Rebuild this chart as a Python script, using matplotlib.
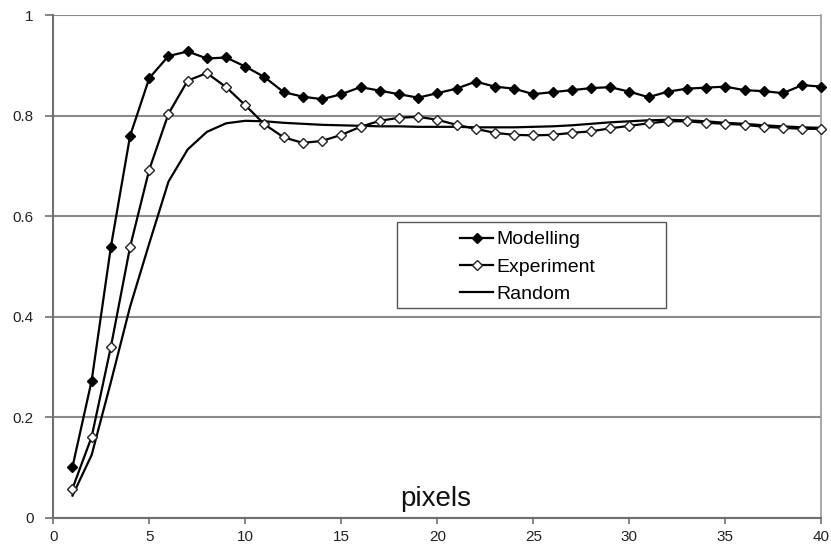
import numpy as np
import matplotlib.pyplot as plt
from matplotlib.patches import Rectangle

plt.rcParams['font.family'] = ['Liberation Sans', 'DejaVu Sans']

pixels = np.arange(1, 41)

modelling = [0.101, 0.273, 0.539, 0.760, 0.875, 0.919, 0.928, 0.914, 0.916, 0.898,
             0.877, 0.847, 0.838, 0.833, 0.843, 0.857, 0.850, 0.843, 0.836, 0.845,
             0.854, 0.868, 0.858, 0.854, 0.843, 0.847, 0.851, 0.855, 0.857, 0.848,
             0.837, 0.848, 0.854, 0.856, 0.858, 0.851, 0.849, 0.845, 0.861, 0.858]

experiment = [0.058, 0.161, 0.340, 0.539, 0.693, 0.804, 0.870, 0.885, 0.857, 0.821,
              0.783, 0.757, 0.746, 0.750, 0.762, 0.778, 0.790, 0.796, 0.798, 0.792,
              0.782, 0.774, 0.766, 0.762, 0.761, 0.762, 0.766, 0.769, 0.775, 0.780,
              0.785, 0.789, 0.789, 0.786, 0.784, 0.782, 0.778, 0.776, 0.774, 0.774]

random_ = [0.044, 0.125, 0.270, 0.420, 0.546, 0.669, 0.733, 0.768, 0.785, 0.790,
           0.789, 0.786, 0.784, 0.782, 0.781, 0.780, 0.779, 0.779, 0.778, 0.778,
           0.778, 0.777, 0.777, 0.777, 0.778, 0.779, 0.781, 0.784, 0.787, 0.789,
           0.791, 0.792, 0.791, 0.789, 0.786, 0.784, 0.781, 0.779, 0.777, 0.776]

fig = plt.figure(figsize=(8.31, 5.54), dpi=100)
ax = fig.add_axes([0.0641, 0.0655, 0.9243, 0.9069])

ax.plot(pixels, modelling, '-D', color='black', lw=1.6, ms=5.0,
        mfc='black', mec='black', label='Modelling', zorder=4, clip_on=False)
ax.plot(pixels, experiment, '-D', color='black', lw=1.6, ms=5.3,
        mfc='white', mec='#222222', mew=1.0, label='Experiment', zorder=3,
        clip_on=False)
ax.plot(pixels, random_, '-', color='black', lw=1.6, label='Random', zorder=2)

ax.set_xlim(0, 40)
ax.set_ylim(0, 1)
ax.set_xticks(np.arange(0, 41, 5))
ax.set_yticks([0, 0.2, 0.4, 0.6, 0.8, 1])
ax.set_yticklabels(['0', '0.2', '0.4', '0.6', '0.8', '1'])
ax.grid(axis='y', color='#8a8a8a', lw=1.5)
ax.set_axisbelow(True)

for side in ['left', 'bottom']:
    ax.spines[side].set_color('#707070')
    ax.spines[side].set_linewidth(1.5)
ax.spines['top'].set_visible(False)
ax.spines['right'].set_color('#9a9a9a')
ax.spines['right'].set_linewidth(1.2)

ax.tick_params(axis='x', length=4, width=1.2, color='#707070', pad=5,
               labelsize=11, labelcolor='#222222')
ax.tick_params(axis='y', length=6, width=1.2, color='#707070', pad=8,
               labelsize=11, labelcolor='#222222')

ax.text(19.9, 0.024, 'pixels', fontsize=20, ha='center', va='baseline',
        color='#111111')

# legend box drawn separately so the text can sit in the middle
ax.add_patch(Rectangle((0.4475, 0.4174), 0.35, 0.1712, transform=ax.transAxes,
                       facecolor='white', edgecolor='#555555', lw=1.0, zorder=5))
ax.legend(loc='upper left', bbox_to_anchor=(0.5296, 0.571), frameon=False,
          fontsize=14, handlelength=1.7, handletextpad=0.15, labelspacing=0.5,
          borderpad=0, borderaxespad=0).set_zorder(6)

fig.savefig('out.png', dpi=100)
